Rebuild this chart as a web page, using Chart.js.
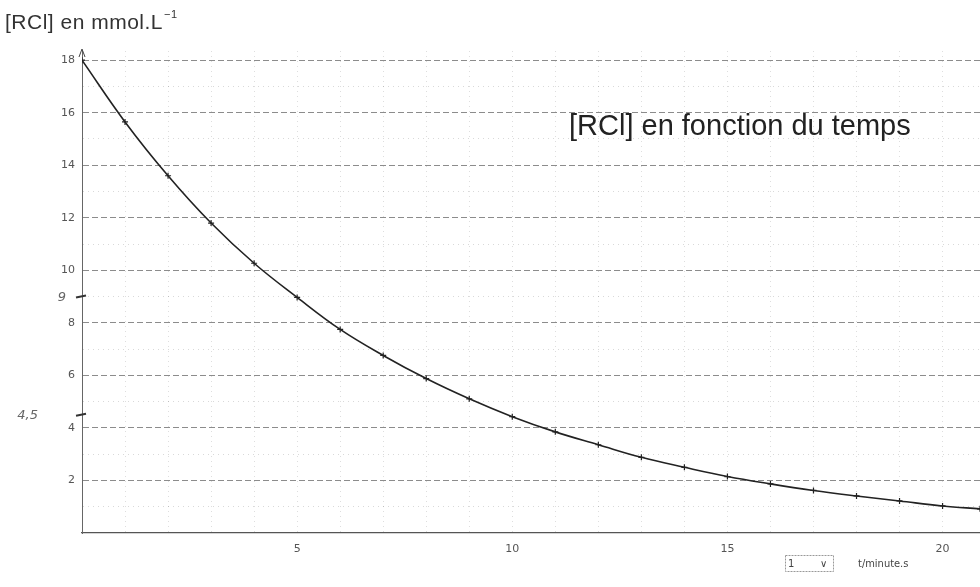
<!DOCTYPE html>
<html lang="fr">
  <head>
    <meta charset="UTF-8" />
    <title>[RCl] en fonction du temps</title>
    <script src="https://cdn.jsdelivr.net/npm/chart.js"></script>
    <style>
      body { margin: 0; background: #fff; }
      #wrap { width: 980px; height: 587px; }
    </style>
  </head>
  <body>
    <div id="wrap"><canvas id="rcl-chart"></canvas></div>
    <script>
      // t in minutes, [RCl] in mmol/L
      const times = [0, 1, 2, 3, 4, 5, 6, 7, 8, 9, 10, 11, 12, 13, 14, 15, 16, 17, 18, 19, 20, 20.87];
      const concentrations = [18, 15.65, 13.6, 11.8, 10.27, 8.97, 7.75, 6.76, 5.88, 5.11, 4.43, 3.85, 3.36, 2.88, 2.5, 2.15, 1.87, 1.62, 1.41, 1.22, 1.03, 0.92];
      const yLabelled = [2, 4, 6, 8, 10, 12, 14, 16, 18];
      const xLabelled = [5, 10, 15, 20];
      const handNotes = [
        { text: "9", value: 9 },
        { text: "4,5", value: 4.5 }
      ];

      const points = times.map((t, i) => ({ x: t, y: concentrations[i] }));

      const extras = {
        id: "extras",
        afterDraw(chart) {
          const { ctx, scales } = chart;
          const x0 = scales.x.getPixelForValue(0);
          ctx.save();
          // axis title
          ctx.fillStyle = "#333";
          ctx.font = "21px 'Liberation Sans', Arial, sans-serif";
          ctx.letterSpacing = "0.5px";
          ctx.textBaseline = "alphabetic";
          ctx.fillText("[RCl] en mmol.L", 5, 29);
          const w = ctx.measureText("[RCl] en mmol.L").width;
          ctx.font = "11px 'Liberation Sans', Arial, sans-serif";
          ctx.fillText("\u22121", 5 + w + 1, 18);
          ctx.letterSpacing = "0px";
          // chart title
          ctx.font = "29px 'Liberation Sans', Arial, sans-serif";
          ctx.fillStyle = "#222";
          ctx.fillText("[RCl] en fonction du temps", 569, 135);
          // handwritten marks on the y axis
          ctx.font = "italic 13px 'DejaVu Sans', sans-serif";
          ctx.fillStyle = "#666";
          ctx.strokeStyle = "#333";
          ctx.lineWidth = 2;
          handNotes.forEach((n) => {
            const y = scales.y.getPixelForValue(n.value);
            ctx.textAlign = "right";
            ctx.fillText(n.text, n.value === 9 ? 66 : 38, y + 4);
            ctx.beginPath();
            ctx.moveTo(x0 - 6, y + 1);
            ctx.lineTo(x0 + 4, y - 1);
            ctx.stroke();
          });
          // y axis arrow
          ctx.strokeStyle = "#444";
          ctx.lineWidth = 1;
          const top = chart.chartArea.top;
          ctx.beginPath();
          ctx.moveTo(x0 - 3, top + 6);
          ctx.lineTo(x0, top - 2);
          ctx.lineTo(x0 + 3, top + 6);
          ctx.stroke();
          // unit selector and x label
          ctx.strokeStyle = "#999";
          ctx.setLineDash([2, 1]);
          ctx.strokeRect(785.5, 555.5, 48, 16);
          ctx.setLineDash([]);
          ctx.textAlign = "left";
          ctx.font = "10px 'DejaVu Sans', sans-serif";
          ctx.fillStyle = "#444";
          ctx.fillText("1", 788, 567);
          ctx.fillText("\u2228", 820, 567);
          ctx.font = "11px 'DejaVu Sans Condensed', 'DejaVu Sans', sans-serif";
          ctx.fillText("t/minute.s", 858, 567);
          ctx.restore();
        }
      };

      new Chart(document.getElementById("rcl-chart"), {
        type: "line",
        data: {
          datasets: [
            {
              data: points,
              borderColor: "#222",
              borderWidth: 1.6,
              tension: 0.4,
              pointStyle: "cross",
              pointRadius: 3,
              pointBorderColor: "#222",
              pointBorderWidth: 1.2,
              fill: false
            }
          ]
        },
        options: {
          responsive: true,
          maintainAspectRatio: false,
          animation: false,
          layout: { autoPadding: false, padding: { top: 51, right: 0, left: 0, bottom: 0 } },
          plugins: { legend: { display: false }, tooltip: { enabled: false } },
          scales: {
            x: {
              type: "linear",
              min: 0,
              max: 20.87,
              afterBuildTicks: (s) => {
                s.ticks = [];
                for (let v = 1; v <= 20; v++) s.ticks.push({ value: v });
              },
              afterFit: (s) => { s.height = 54; },
              ticks: {
                color: "#555",
                font: { size: 11, family: "'DejaVu Sans', sans-serif" },
                padding: 10,
                maxRotation: 0,
                autoSkip: false,
                callback: (v) => (xLabelled.includes(v) ? String(v) : "")
              },
              grid: { color: "rgba(0,0,0,0.13)", drawTicks: false },
              border: { color: "#555", width: 1.2, dash: [1, 4] }
            },
            y: {
              min: 0,
              max: 18.35,
              afterBuildTicks: (s) => {
                s.ticks = [];
                for (let v = 1; v <= 18; v++) s.ticks.push({ value: v });
              },
              afterFit: (s) => { s.width = 82; },
              ticks: {
                color: "#555",
                font: { size: 11, family: "'DejaVu Sans', sans-serif" },
                padding: 7,
                autoSkip: false,
                callback: (v) => (yLabelled.includes(v) ? String(v) : "")
              },
              grid: {
                drawTicks: false,
                color: (c) => (c.tick && c.tick.value % 2 === 0 ? "rgba(0,0,0,0.45)" : "rgba(0,0,0,0.15)")
              },
              border: {
                color: "#666",
                width: 1,
                dash: (c) => (c.tick && c.tick.value % 2 === 0 ? [6, 3] : [1, 4])
              }
            }
          }
        },
        plugins: [extras]
      });
    </script>
  </body>
</html>
